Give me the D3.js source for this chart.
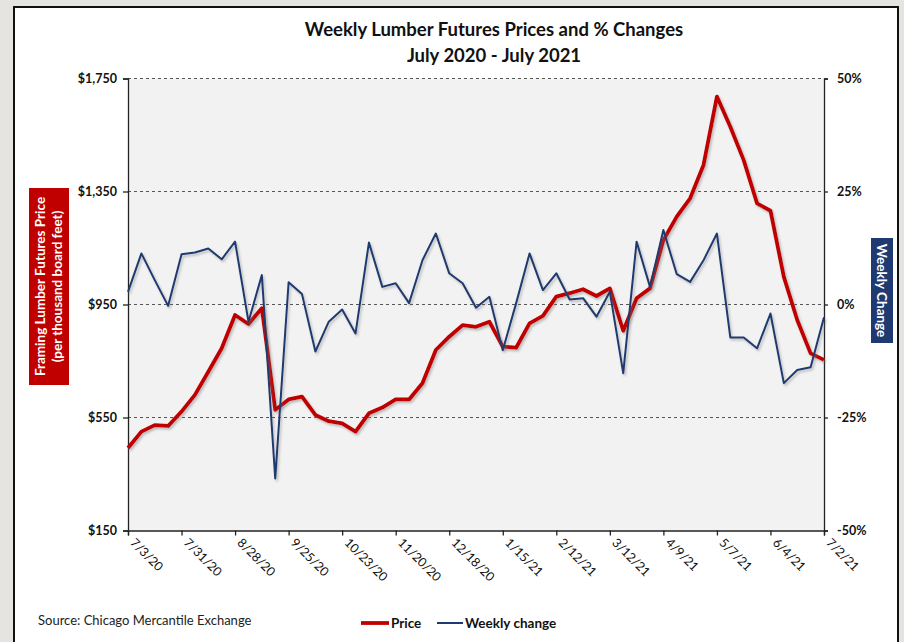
<!DOCTYPE html>
<html>
<head>
<meta charset="utf-8">
<script src="https://cdn.jsdelivr.net/npm/d3@7"></script>
<style>
  html, body { margin: 0; padding: 0; background: #e6e4e1; }
  svg { display: block; font-family: Lato, "Open Sans", sans-serif; }
</style>
</head>
<body>
<svg id="chart" width="904" height="642"></svg>
<script>
// weekly settle prices, $ per thousand board feet (7/3/20 .. 7/2/21)
const prices = [442, 500, 523, 520, 571, 630, 712, 795, 913, 881, 937, 577, 614, 624, 559, 537,
  529, 500, 565, 585, 614, 614, 671, 789, 836, 877, 871, 889, 801, 797, 883, 910, 978, 990,
  1004, 980, 1007, 857, 972, 1007, 1178, 1261, 1326, 1444, 1686, 1579, 1461, 1308, 1282,
  1048, 895, 777, 754]

// weekly % change
const changes = [2.8, 11.3, 5.4, -0.3, 11.1, 11.5, 12.4, 10, 13.9, -3.8, 6.5, -38.5, 4.9, 2.3,
  -10.4, -3.8, -1.1, -6.4, 13.7, 3.9, 4.7, 0.3, 9.8, 15.7, 6.9, 4.7, -0.7, 1.7, -10.1, 0.3,
  11.3, 3.2, 6.9, 1.1, 1.4, -2.7, 2.8, -15.2, 13.9, 3.9, 16.5, 6.7, 5.0, 9.8, 15.7, -7.3,
  -7.3, -9.7, -2.0, -17.4, -14.5, -13.9, -2.8]

// x tick every 4 weeks
const tickLabels = ['7/3/20', '7/31/20', '8/28/20', '9/25/20', '10/23/20', '11/20/20',
  '12/18/20', '1/15/21', '2/12/21', '3/12/21', '4/9/21', '5/7/21', '6/4/21', '7/2/21']
const priceTicks = [150, 550, 950, 1350, 1750]
const changeTicks = [-50, -25, 0, 25, 50]

var svg = d3.select('#chart')

var plot = { left: 128, right: 824, top: 78.5, bottom: 530.5 }

// white card with black border
svg.append('rect')
  .attr('x', 14).attr('y', 7)
  .attr('width', 884).attr('height', 660)
  .attr('fill', '#fff')
  .attr('stroke', '#111').attr('stroke-width', 2)

var defs = svg.append('defs')
var shadow = defs.append('filter').attr('id', 'shadow')
  .attr('x', '-5%').attr('y', '-5%').attr('width', '110%').attr('height', '110%')
shadow.append('feDropShadow')
  .attr('dx', 1.5).attr('dy', 2).attr('stdDeviation', 1)
  .attr('flood-color', '#777').attr('flood-opacity', 0.45)

// title
var title = svg.append('g').attr('font-weight', 'bold').attr('font-size', 18.5)
  .attr('text-anchor', 'middle').attr('fill', '#111')
title.append('text').attr('x', 494).attr('y', 36).text('Weekly Lumber Futures Prices and % Changes')
title.append('text').attr('x', 494).attr('y', 62).text('July 2020 - July 2021')

var x = d3.scaleLinear().domain([0, prices.length - 1]).range([plot.left, plot.right])
var yPrice = d3.scaleLinear().domain([150, 1750]).range([plot.bottom, plot.top])
var yChange = d3.scaleLinear().domain([-50, 50]).range([plot.bottom, plot.top])

// plot background
svg.append('rect')
  .attr('x', plot.left).attr('y', plot.top)
  .attr('width', plot.right - plot.left).attr('height', plot.bottom - plot.top)
  .attr('fill', '#f2f2f2')

// dashed gridlines
svg.append('g').selectAll('line')
  .data(priceTicks.slice(1))
  .join('line')
  .attr('x1', plot.left).attr('x2', plot.right)
  .attr('y1', d => yPrice(d)).attr('y2', d => yPrice(d))
  .attr('stroke', '#555').attr('stroke-width', 1.2)
  .attr('stroke-dasharray', '3,3')

// left axis
var leftAxis = svg.append('g')
  .attr('transform', 'translate(' + plot.left + ',0)')
  .call(d3.axisLeft(yPrice).tickValues(priceTicks).tickSize(5).tickPadding(6)
    .tickFormat(d => '$' + d3.format(',')(d)))
leftAxis.selectAll('text').attr('font-size', 12.5).attr('font-weight', 'bold')
  .attr('fill', '#111').attr('font-family', 'Lato, sans-serif')
leftAxis.selectAll('line, path').attr('stroke', '#222').attr('stroke-width', 1.3)

// right axis
var rightAxis = svg.append('g')
  .attr('transform', 'translate(' + plot.right + ',0)')
  .call(d3.axisRight(yChange).tickValues(changeTicks).tickSize(4).tickPadding(9)
    .tickFormat(d => d + '%'))
rightAxis.selectAll('text').attr('font-size', 12.5).attr('font-weight', 'bold')
  .attr('fill', '#111').attr('font-family', 'Lato, sans-serif')
rightAxis.selectAll('line, path').attr('stroke', '#222').attr('stroke-width', 1.3)

// bottom axis
var bottomAxis = svg.append('g')
  .attr('transform', 'translate(0,' + plot.bottom + ')')
  .call(d3.axisBottom(x).tickValues(d3.range(0, prices.length, 4)).tickSize(5)
    .tickFormat((d, i) => tickLabels[i]))
bottomAxis.selectAll('line, path').attr('stroke', '#222').attr('stroke-width', 1.3)
bottomAxis.selectAll('text')
  .attr('font-size', 12.5).attr('fill', '#111').attr('font-family', 'Lato, sans-serif')
  .attr('text-anchor', 'start')
  .attr('dy', 0).attr('y', 0)
  .attr('transform', 'translate(1,13) rotate(45)')

// lines
var priceLine = d3.line().x((d, i) => x(i)).y(d => yPrice(d))
var changeLine = d3.line().x((d, i) => x(i)).y(d => yChange(d))

svg.append('path')
  .datum(prices)
  .attr('d', priceLine)
  .attr('fill', 'none')
  .attr('stroke', '#c00000').attr('stroke-width', 3.8)
  .attr('stroke-linejoin', 'round')
  .attr('filter', 'url(#shadow)')

svg.append('path')
  .datum(changes)
  .attr('d', changeLine)
  .attr('fill', 'none')
  .attr('stroke', '#1f3a70').attr('stroke-width', 2)
  .attr('stroke-linejoin', 'round')
  .attr('filter', 'url(#shadow)')

// left axis title box
svg.append('rect').attr('x', 29).attr('y', 188).attr('width', 40).attr('height', 197)
  .attr('fill', '#c00000')
var lt = svg.append('g').attr('transform', 'translate(49,286.5) rotate(-90)')
  .attr('fill', '#fff').attr('font-weight', 'bold').attr('font-size', 13.5)
  .attr('text-anchor', 'middle')
lt.append('text').attr('y', -4).text('Framing Lumber Futures Price')
lt.append('text').attr('y', 13).text('(per thousand board feet)')

// right axis title box
svg.append('rect').attr('x', 871).attr('y', 238).attr('width', 22).attr('height', 105)
  .attr('fill', '#1f3a70')
svg.append('text').attr('transform', 'translate(882,290.5) rotate(90)')
  .attr('fill', '#fff').attr('font-weight', 'bold').attr('font-size', 13.5)
  .attr('text-anchor', 'middle').attr('dy', '0.35em')
  .text('Weekly Change')

// source
svg.append('text').attr('x', 38).attr('y', 625)
  .attr('font-size', 13).attr('fill', '#222')
  .text('Source:  Chicago Mercantile Exchange')

// legend
var legend = svg.append('g').attr('font-size', 13.5).attr('font-weight', 'bold').attr('fill', '#111')
legend.append('line').attr('x1', 361).attr('x2', 389).attr('y1', 623).attr('y2', 623)
  .attr('stroke', '#c00000').attr('stroke-width', 3.8)
legend.append('text').attr('x', 391).attr('y', 628).text('Price')
legend.append('line').attr('x1', 437).attr('x2', 463).attr('y1', 623).attr('y2', 623)
  .attr('stroke', '#1f3a70').attr('stroke-width', 2)
legend.append('text').attr('x', 465).attr('y', 628).text('Weekly change')
</script>
</body>
</html>
